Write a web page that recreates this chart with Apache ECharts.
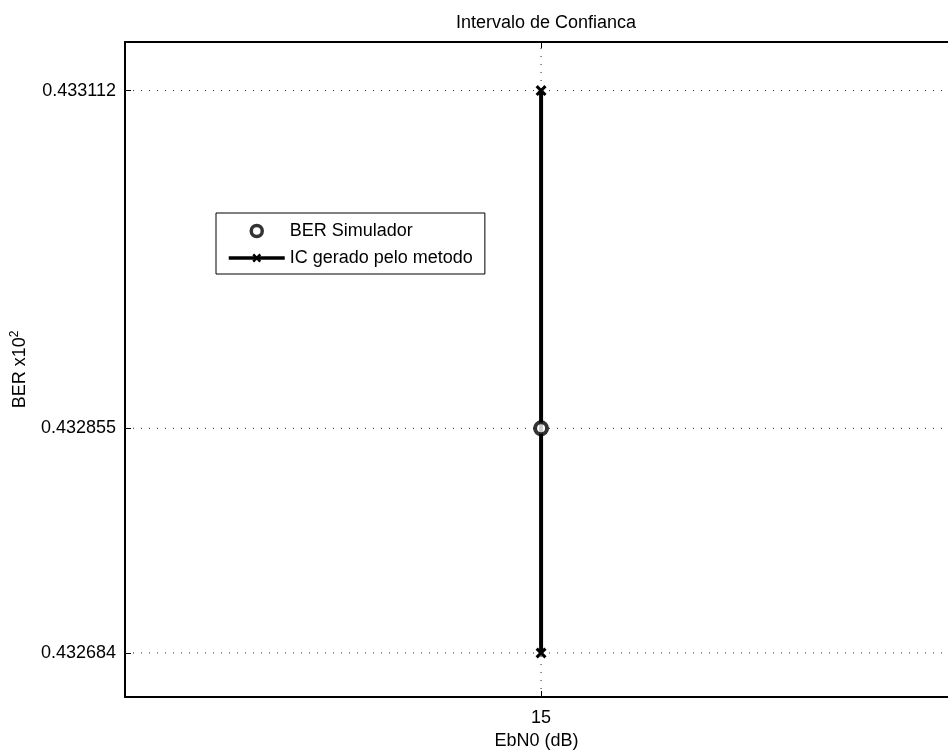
<!DOCTYPE html>
<html><head><meta charset="utf-8">
<script src="https://cdn.jsdelivr.net/npm/echarts@6/dist/echarts.min.js"></script>
<style>html,body{margin:0;padding:0;background:#fff}#c{width:948px;height:751px}</style>
</head><body><div id="c"></div>
<script>
const xCategories = [15];
const berSimulador = [0.432855];
const icLower = [0.432684];
const icUpper = [0.433112];
const yTickLabels = [0.432684, 0.432855, 0.433112];
const xTickLabels = [15];

const chart = echarts.init(document.getElementById('c'));
const FONT = 'Liberation Sans, Arial, sans-serif';
const X = 'path://M0 2 L2 0 L5 3 L8 0 L10 2 L7 5 L10 8 L8 10 L5 7 L2 10 L0 8 L3 5 Z';
const X_MIN = 14, X_MAX = 15.978;
const Y_MIN = 0.4326505, Y_MAX = 0.433149;

const icData = [];
xCategories.forEach((x, i) => { icData.push([x, icLower[i]]); icData.push([x, icUpper[i]]); });
const berData = xCategories.map((x, i) => [x, berSimulador[i]]);

const gridLineStyle = { color: '#222', type: [1, 7], width: 1 };
const gridSeries = yTickLabels.map(v => ({
  type: 'line', silent: true, symbol: 'none', z: 1,
  data: [[X_MIN, v], [X_MAX, v]], lineStyle: gridLineStyle
})).concat(xTickLabels.map(v => ({
  type: 'line', silent: true, symbol: 'none', z: 1,
  data: [[v, Y_MIN], [v, Y_MAX]], lineStyle: gridLineStyle
})));

chart.setOption({
  animation: false,
  backgroundColor: '#fff',
  title: { text: 'Intervalo de Confianca', left: 541, top: 9, textAlign: 'center',
    textStyle: { fontFamily: FONT, fontSize: 18, fontWeight: 'normal', color: '#000' } },
  grid: { left: 125, right: 0, top: 42, bottom: 54, containLabel: false, outerBoundsMode: 'none' },
  legend: {
    orient: 'vertical', left: 216, top: 213,
    padding: [9, 12, 7, 11], itemGap: 9,
    borderColor: '#000', borderWidth: 1, backgroundColor: '#fff',
    itemWidth: 56, itemHeight: 11,
    textStyle: { fontFamily: FONT, fontSize: 18, color: '#000' },
    data: [
      { name: 'BER Simulador', itemStyle: { borderWidth: 3.5, borderColor: '#000', color: '#fff' } },
      { name: 'IC gerado pelo metodo', lineStyle: { width: 3.5, color: '#000' } }
    ]
  },
  xAxis: [{
    type: 'value', min: X_MIN, max: X_MAX,
    name: 'EbN0 (dB)', nameLocation: 'middle', nameGap: 32,
    nameTextStyle: { fontFamily: FONT, fontSize: 18, color: '#000' },
    axisLine: { lineStyle: { color: '#000', width: 2 } },
    axisTick: { inside: true, length: 6, customValues: xTickLabels, lineStyle: { color: '#000' } },
    axisLabel: { customValues: xTickLabels, fontFamily: FONT, fontSize: 18, color: '#000', margin: 12 },
    splitLine: { show: false }
  }, {
    type: 'value', min: X_MIN, max: X_MAX, position: 'top',
    axisLine: { lineStyle: { color: '#000', width: 2 } },
    axisTick: { inside: true, length: 6, customValues: xTickLabels, lineStyle: { color: '#000' } },
    axisLabel: { show: false }, splitLine: { show: false }
  }],
  yAxis: [{
    type: 'value', min: Y_MIN, max: Y_MAX,
    name: '{a|BER x10}{b|2}', nameLocation: 'middle', nameGap: 94, nameRotate: 90,
    nameTextStyle: { rich: {
      a: { fontFamily: FONT, fontSize: 18, color: '#000' },
      b: { fontFamily: FONT, fontSize: 12, color: '#000', verticalAlign: 'top', padding: [0, 0, 10, 0] }
    } },
    axisLine: { lineStyle: { color: '#000', width: 2 } },
    axisTick: { inside: true, length: 6, customValues: yTickLabels, lineStyle: { color: '#000' } },
    axisLabel: { customValues: yTickLabels, fontFamily: FONT, fontSize: 18, color: '#000', margin: 9,
      formatter: v => v.toFixed(6) },
    splitLine: { show: false }
  }],
  series: gridSeries.concat([{
    name: 'BER Simulador', type: 'scatter', data: berData, z: 5,
    symbol: 'circle', symbolSize: 12,
    itemStyle: { color: '#fff', borderColor: '#000', borderWidth: 4 }
  }, {
    name: 'IC gerado pelo metodo', type: 'line', data: icData, z: 4,
    symbol: X, symbolSize: 11,
    lineStyle: { color: '#000', width: 4 },
    itemStyle: { color: '#000' }
  }])
});
</script></body></html>
